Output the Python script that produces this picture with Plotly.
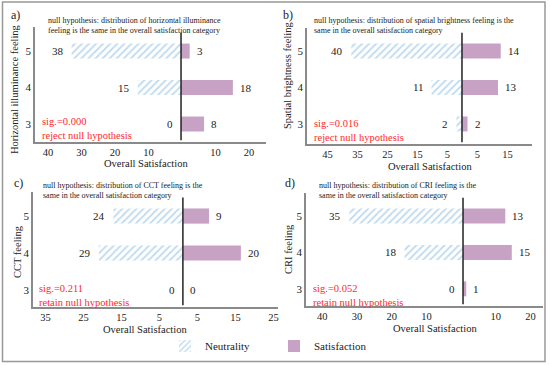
import plotly.graph_objects as go

# ---------------- data ----------------
feelings = [5, 4, 3]

neut_a = [38, 15, 0]
sat_a = [3, 18, 8]
neut_b = [40, 11, 2]
sat_b = [14, 13, 2]
neut_c = [24, 29, 0]
sat_c = [9, 20, 0]
neut_d = [35, 18, 0]
sat_d = [13, 15, 1]

ticks_left_a = [40, 30, 20, 10]
ticks_right_a = [10, 20]
ticks_left_b = [45, 35, 25, 15, 5]
ticks_right_b = [5, 15]
ticks_left_c = [35, 25, 15, 5]
ticks_right_c = [5, 15, 25]
ticks_left_d = [40, 30, 20, 10]
ticks_right_d = [10, 20]

ytitles = ["Horizontal illuminance feeling", "Spatial brightness feeling", "CCT feeling", "CRI feeling"]
panel_tags = ["a)", "b)", "c)", "d)"]
hypotheses = [
    "null hypothesis: distribution of horizontal illuminance<br>feeling is the same in the overall satisfaction category",
    "null hypothesis: distribution of spatial brightness feeling is the<br>same in the overall satisfaction category",
    "null hypothesis: distribution of CCT feeling is the<br>same in the overall satisfaction category",
    "null hypothesis: distribution of CRI feeling is the<br>same in the overall satisfaction category",
]
sig_texts = [
    "sig.=0.000<br>reject null hypothesis",
    "sig.=0.016<br>reject null hypothesis",
    "sig.=0.211<br>retain null hypothesis",
    "sig.=0.052<br>retain null hypothesis",
]
xtitle = "Overall Satisfaction"
legend_names = ["Neutrality", "Satisfaction"]

# ---------------- styling / layout ----------------
W, H = 550, 365
FONT = "Liberation Serif, Times New Roman, serif"
NEUT_COLOR = "#7fb6df"
SAT_COLOR = "#c8a2c4"
AXIS_COLOR = "#8a8a8a"
TXT = "#222222"


def px(x):
    return x / W


def py(y):
    return 1 - y / H


panels = [
    dict(neut=neut_a, sat=sat_a, tl=ticks_left_a, tr=ticks_right_a,
         xdom=(35, 266), ydom=(27, 142), yr=(2.507, 5.66), xr=(-50.7, 29.5), tr_rng=(-43.9, 25.1),
         tag=(15, 15), hyp=(46, 13.5), sig=(40, 114), ytit=(14, 89), xtit=(146, 164)),
    dict(neut=neut_b, sat=sat_b, tl=ticks_left_b, tr=ticks_right_b,
         xdom=(307, 532), ydom=(28, 144), yr=(2.45, 5.63), xr=(-56.0, 25.3), tr_rng=(-51.8, 23.2),
         tag=(288, 15), hyp=(312, 13.5), sig=(312, 116), ytit=(287, 76), xtit=(430, 166)),
    dict(neut=neut_c, sat=sat_c, tl=ticks_left_c, tr=ticks_right_c,
         xdom=(33, 278), ydom=(192, 307), yr=(2.54, 5.65), xr=(-51.7, 32.8), tr_rng=(-38.3, 26.2),
         tag=(18, 183), hyp=(41, 179.5), sig=(37, 281), ytit=(17, 252), xtit=(145, 329)),
    dict(neut=neut_d, sat=sat_d, tl=ticks_left_d, tr=ticks_right_d,
         xdom=(306, 543), ydom=(193, 306), yr=(2.53, 5.63), xr=(-48.3, 24.6), tr_rng=(-44.7, 23.6),
         tag=(290, 183), hyp=(317, 179.5), sig=(311, 281), ytit=(288, 249), xtit=(435, 328)),
]

fig = go.Figure()
layout = {}
annotations = []
shapes = []

for i, p in enumerate(panels):
    n = i + 1
    xa = "x" if n == 1 else f"x{n}"
    ya = "y" if n == 1 else f"y{n}"
    tick_ax_num = n + 4
    xt = f"x{tick_ax_num}"
    xkey = "xaxis" if n == 1 else f"xaxis{n}"
    ykey = "yaxis" if n == 1 else f"yaxis{n}"

    fig.add_trace(go.Bar(
        y=feelings, x=[-v for v in p["neut"]], orientation="h", width=0.41,
        name=legend_names[0], legendgroup="neut", showlegend=(i == 0),
        marker=dict(color="white", line=dict(width=0),
                    pattern=dict(shape="/", fgcolor=NEUT_COLOR, bgcolor="white", size=5, solidity=0.35)),
        xaxis=xa, yaxis=ya, hoverinfo="skip"))
    fig.add_trace(go.Bar(
        y=feelings, x=p["sat"], orientation="h", width=0.41,
        name=legend_names[1], legendgroup="sat", showlegend=(i == 0),
        marker=dict(color=SAT_COLOR, line=dict(width=0)),
        xaxis=xa, yaxis=ya, hoverinfo="skip"))

    tv = [-v for v in p["tl"]] + list(p["tr"])
    tt = [str(v) for v in p["tl"]] + [str(v) for v in p["tr"]]
    # empty carrier trace so the tick axis gets drawn
    fig.add_trace(go.Scatter(x=tv, y=[None] * len(tv), mode="markers", xaxis=xt, yaxis=ya,
                             showlegend=False, hoverinfo="skip", marker=dict(opacity=0)))

    x0, x1 = p["xdom"]
    ytop, ybot = p["ydom"]
    layout[xkey] = dict(domain=[px(x0), px(x1)], range=list(p["xr"]), anchor=ya,
                        visible=False, fixedrange=True)
    layout[ykey] = dict(domain=[py(ybot), py(ytop)], range=list(p["yr"]), anchor=xa,
                        tickvals=feelings, ticktext=[str(v) for v in feelings],
                        showline=True, linecolor=AXIS_COLOR, linewidth=1.5, ticks="",
                        showgrid=False, zeroline=False, fixedrange=True,
                        tickfont=dict(family=FONT, size=11, color=TXT))
    layout[f"xaxis{tick_ax_num}"] = dict(overlaying=xa, anchor=ya, side="bottom", range=list(p["tr_rng"]),
                                         tickvals=tv, ticktext=tt, showline=True, linecolor=AXIS_COLOR,
                                         linewidth=1.5, ticks="", showgrid=False, zeroline=False,
                                         fixedrange=True,
                                         tickfont=dict(family=FONT, size=10.5, color=TXT))

    # center line
    shapes.append(dict(type="line", xref=xa, yref=ya, x0=0, x1=0, y0=p["yr"][0] + 0.05, y1=5.5,
                       line=dict(color="#222222", width=1.5), layer="above"))

    # value labels
    for f, v in zip(feelings, p["neut"]):
        annotations.append(dict(xref=xa, yref=ya, x=-v, y=f, text=str(v), showarrow=False,
                                xanchor="right", xshift=-6, font=dict(family=FONT, size=11, color=TXT)))
    for f, v in zip(feelings, p["sat"]):
        annotations.append(dict(xref=xa, yref=ya, x=v, y=f, text=str(v), showarrow=False,
                                xanchor="left", xshift=5, font=dict(family=FONT, size=11, color=TXT)))

    # panel texts
    annotations.append(dict(xref="paper", yref="paper", x=px(p["tag"][0]), y=py(p["tag"][1]),
                            text=panel_tags[i], showarrow=False, xanchor="center", yanchor="middle",
                            font=dict(family=FONT, size=12, color=TXT)))
    annotations.append(dict(xref="paper", yref="paper", x=px(p["hyp"][0]), y=py(p["hyp"][1]),
                            text=hypotheses[i], showarrow=False, xanchor="left", yanchor="top", align="left",
                            font=dict(family=FONT, size=8, color=TXT)))
    annotations.append(dict(xref="paper", yref="paper", x=px(p["sig"][0]), y=py(p["sig"][1]),
                            text=sig_texts[i], showarrow=False, xanchor="left", yanchor="top", align="left",
                            font=dict(family=FONT, size=10.5, color="#ff2a2a")))
    annotations.append(dict(xref="paper", yref="paper", x=px(p["ytit"][0]), y=py(p["ytit"][1]),
                            text=ytitles[i], showarrow=False, textangle=-90, xanchor="center", yanchor="middle",
                            font=dict(family=FONT, size=10.5, color=TXT)))
    annotations.append(dict(xref="paper", yref="paper", x=px(p["xtit"][0]), y=py(p["xtit"][1]),
                            text=xtitle, showarrow=False, xanchor="center", yanchor="middle",
                            font=dict(family=FONT, size=10.5, color=TXT)))

# outer frame
shapes.append(dict(type="rect", xref="paper", yref="paper", x0=px(2.5), x1=px(545), y0=py(361.5), y1=py(2),
                   line=dict(color="#999999", width=1.5)))

fig.update_layout(
    width=W, height=H,
    margin=dict(l=0, r=0, t=0, b=0),
    paper_bgcolor="white", plot_bgcolor="white",
    barmode="relative",
    showlegend=True,
    legend=dict(orientation="h", x=px(165), y=py(346), xanchor="left", yanchor="middle",
                font=dict(family=FONT, size=11, color=TXT), bgcolor="rgba(0,0,0,0)",
                entrywidth=64, itemwidth=30),
    annotations=annotations,
    shapes=shapes,
    **layout,
)

fig.write_html("out.html", config={"displayModeBar": False},
               post_script="document.body.style.margin='0px';")
